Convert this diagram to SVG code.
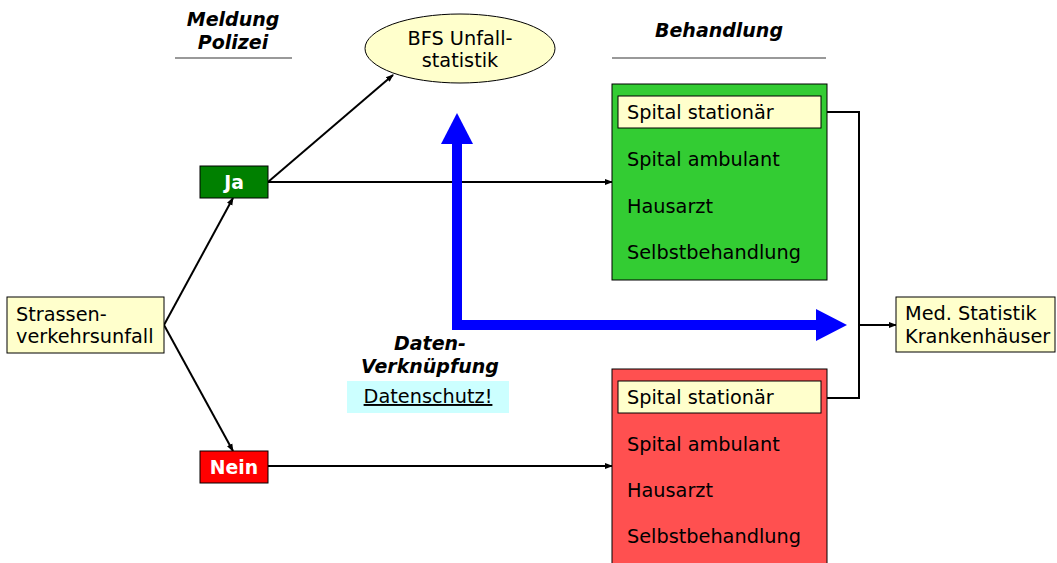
<svg xmlns="http://www.w3.org/2000/svg" width="1057" height="563" viewBox="0 0 1057 563">
<defs>
<style>
text{font-family:"DejaVu Sans","Verdana",sans-serif;font-size:19.3px;fill:#000}
.h{font-weight:bold;font-style:italic;font-size:19px;text-anchor:middle}
.w{font-weight:bold;fill:#fff;text-anchor:middle;font-size:18.8px}
.box{stroke:#000;stroke-width:1}
.ln{stroke:#000;stroke-width:2;fill:none}
.rule{stroke:#777;stroke-width:1.5}
</style>
<marker id="ah" markerWidth="8" markerHeight="8" refX="7" refY="4" orient="auto" markerUnits="userSpaceOnUse">
<path d="M0,1 L8,4 L0,7 Z" fill="#000"/>
</marker>
</defs>
<rect width="1057" height="563" fill="#fff"/>

<g id="hdr-meldung">
<text class="h" x="233" y="26">Meldung</text>
<text class="h" x="233" y="49">Polizei</text>
<line class="rule" x1="175" y1="58" x2="292" y2="58"/>
</g>
<g id="hdr-behandlung">
<text class="h" x="719" y="37">Behandlung</text>
<line class="rule" x1="612" y1="58" x2="826" y2="58"/>
</g>

<g id="connectors">
<line class="ln" x1="164" y1="325" x2="233" y2="198" marker-end="url(#ah)"/>
<line class="ln" x1="164" y1="325" x2="233" y2="451" marker-end="url(#ah)"/>
<line class="ln" x1="268" y1="182" x2="393" y2="75" marker-end="url(#ah)"/>
<line class="ln" x1="268" y1="182" x2="612" y2="182" marker-end="url(#ah)"/>
<line class="ln" x1="268" y1="466" x2="612" y2="466" marker-end="url(#ah)"/>
<polyline class="ln" points="821,112 859,112 859,398 821,398"/>
<line class="ln" x1="859" y1="325" x2="896" y2="325" marker-end="url(#ah)"/>
<g id="blue-arrow" fill="#0000ff">
<rect x="452" y="140" width="10" height="190"/>
<rect x="452" y="320" width="366" height="10"/>
<polygon points="441,144 457,113 473,144"/>
<polygon points="816,309 847,325 816,341"/>
</g>
</g>

<g id="bfs">
<ellipse cx="460" cy="48.5" rx="95" ry="34.5" fill="#ffffcc" stroke="#000" stroke-width="1"/>
<text x="460" y="45" text-anchor="middle">BFS Unfall-</text>
<text x="460" y="67" text-anchor="middle">statistik</text>
</g>

<g id="ja">
<rect class="box" x="200" y="166" width="68" height="32" fill="#008000"/>
<text class="w" x="234" y="189">Ja</text>
</g>

<g id="nein">
<rect class="box" x="200" y="451" width="68" height="32" fill="#ff0000"/>
<text class="w" x="234" y="474">Nein</text>
</g>

<g id="unfall">
<rect class="box" x="7" y="297" width="157" height="56" fill="#ffffcc"/>
<text x="16" y="321">Strassen-</text>
<text x="16" y="343">verkehrsunfall</text>
</g>

<g id="behandlung-ja">
<rect class="box" x="612" y="84" width="215" height="196" fill="#33cc33"/>
<rect class="box" x="618" y="96" width="203" height="32" fill="#ffffcc"/>
<text x="627" y="119">Spital stationär</text>
<text x="627" y="166">Spital ambulant</text>
<text x="627" y="213">Hausarzt</text>
<text x="627" y="259">Selbstbehandlung</text>
</g>

<g id="behandlung-nein">
<rect class="box" x="612" y="369" width="215" height="200" fill="#ff5050"/>
<rect class="box" x="618" y="381" width="203" height="32" fill="#ffffcc"/>
<text x="627" y="404">Spital stationär</text>
<text x="627" y="451">Spital ambulant</text>
<text x="627" y="497">Hausarzt</text>
<text x="627" y="543">Selbstbehandlung</text>
</g>

<g id="med">
<rect class="box" x="896" y="297" width="159" height="55" fill="#ffffcc"/>
<text x="905" y="320">Med. Statistik</text>
<text x="905" y="343">Krankenhäuser</text>
</g>

<g id="verknuepfung">
<text class="h" x="430" y="350">Daten-</text>
<text class="h" x="430" y="373">Verknüpfung</text>
<rect x="347" y="381" width="162" height="32" fill="#ccffff"/>
<text x="428" y="403" text-anchor="middle" text-decoration="underline">Datenschutz!</text>
</g>
</svg>
